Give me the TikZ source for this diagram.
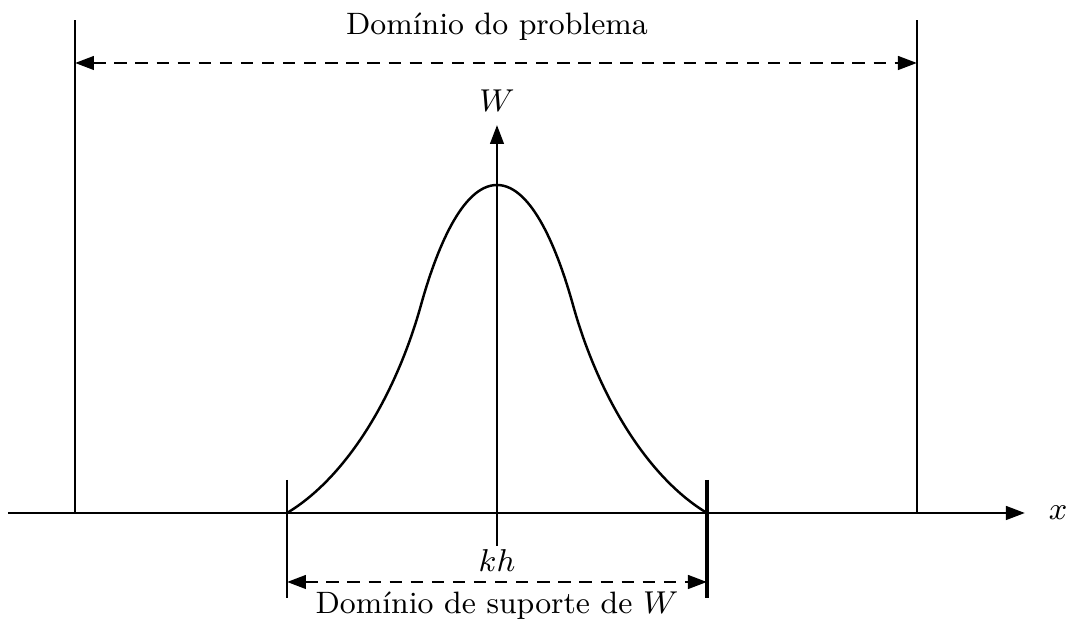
\documentclass[tikz,border=0pt]{standalone}
\usepackage{tikz}
\usetikzlibrary{arrows.meta}

\begin{document}
\begin{tikzpicture}[>={Triangle[length=1.9mm,width=1.35mm]},line width=0.8pt,font=\fontsize{8.8pt}{10.5pt}\selectfont]
\tikzstyle{dim}=[<->,dash pattern=on 3.5pt off 2.5pt]
\tikzstyle{lbl}=[anchor=base,inner sep=0pt]
\useasboundingbox (-4.97,-1.08) rectangle (5.73,5.13);
% axes
\coordinate (xs) at (-4.89,0); \coordinate (xe) at (5.28,0);
\coordinate (wb) at (0,-0.33); \coordinate (wt) at (0,3.88);
\draw[->] (xs) -- (xe);
\draw[->] (wb) -- (wt);
\node[lbl] (lx) at (5.61,-0.07) {$x$};
\node[lbl] (lw) at (0,4.01) {$W$};
% problem domain
\coordinate (lb) at (-4.22,0); \coordinate (lt) at (-4.22,4.93);
\coordinate (rb) at (4.20,0); \coordinate (rt) at (4.20,4.93);
\draw (lb) -- (lt); \draw (rb) -- (rt);
\coordinate (pl) at (-4.22,4.50); \coordinate (pr) at (4.20,4.50);
\draw[dim] (pl) -- (pr);
\node[lbl] (dprob) at (0,4.78) {Domínio do problema};
% kernel
\draw[line width=0.7pt] (-2.10,0) .. controls (-1.50,0.36) and (-1.01,1.18) .. (-0.76,2.08)
  .. controls (-0.61,2.62) and (-0.35,3.28) .. (0,3.28)
  .. controls (0.35,3.28) and (0.61,2.62) .. (0.76,2.08)
  .. controls (1.01,1.18) and (1.50,0.36) .. (2.10,0);
% support
\coordinate (st) at (-2.10,0.33); \coordinate (sb) at (-2.10,-0.85);
\coordinate (tt) at (2.10,0.33); \coordinate (tb) at (2.10,-0.85);
\draw (st) -- (sb); \draw[line width=1pt] (tt) -- (tb);
\coordinate (sl) at (-2.10,-0.69); \coordinate (sr) at (2.10,-0.69);
\draw[dim] (sl) -- (sr);
\node[lbl] (lkh) at (0,-0.59) {$kh$};
\node[lbl] (dsup) at (0,-1.01) {Domínio de suporte de $W$};
\end{tikzpicture}
\end{document}
